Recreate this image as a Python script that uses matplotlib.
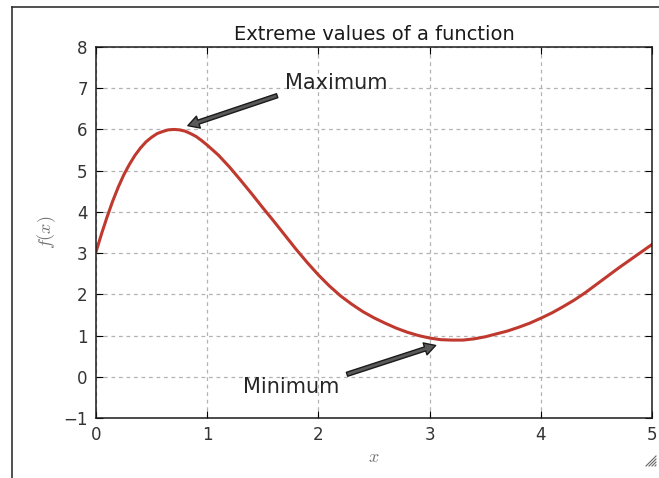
import matplotlib
matplotlib.use("Agg")
import matplotlib.pyplot as plt
from matplotlib.lines import Line2D

# values
x_vals = [0.0, 0.05, 0.1, 0.15, 0.2, 0.25, 0.3, 0.35, 0.4, 0.45, 0.5, 0.55, 0.6, 0.65,
          0.7, 0.75, 0.8, 0.85, 0.9, 0.95, 1.0, 1.1, 1.2, 1.3, 1.4, 1.5, 1.6, 1.7,
          1.8, 1.9, 2.0, 2.1, 2.2, 2.3, 2.4, 2.5, 2.6, 2.7, 2.8, 2.9, 3.0, 3.1,
          3.2, 3.3, 3.4, 3.5, 3.6, 3.7, 3.8, 3.9, 4.0, 4.1, 4.2, 4.3, 4.4, 4.5,
          4.6, 4.7, 4.8, 4.9, 5.0]
f_vals = [3.03, 3.47, 3.88, 4.26, 4.6, 4.9, 5.15, 5.37, 5.55, 5.7, 5.81, 5.9, 5.95, 5.99,
          6.0, 5.99, 5.96, 5.9, 5.83, 5.73, 5.62, 5.38, 5.09, 4.77, 4.44, 4.1, 3.77, 3.43,
          3.09, 2.77, 2.47, 2.2, 1.96, 1.76, 1.58, 1.43, 1.3, 1.18, 1.08, 1.0, 0.94, 0.9,
          0.89, 0.89, 0.92, 0.97, 1.04, 1.11, 1.2, 1.3, 1.42, 1.55, 1.7, 1.86, 2.04, 2.24,
          2.44, 2.64, 2.83, 3.02, 3.21]

max_xy = (0.78, 6.05)
max_text = (1.70, 6.98)
min_xy = (3.10, 0.80)
min_text = (1.32, -0.39)

x_ticks = [0, 1, 2, 3, 4, 5]
y_ticks = [-1, 0, 1, 2, 3, 4, 5, 6, 7, 8]

plt.rcParams["mathtext.fontset"] = "cm"
plt.rcParams["font.family"] = ["DejaVu Sans"]

fig = plt.figure(figsize=(6.59, 4.78), dpi=100)
ax = fig.add_axes([96 / 659, 1 - 418 / 478, 556 / 659, 371 / 478])

ax.plot(x_vals, f_vals, color="#c0392f", lw=2.2)

ax.set_xlim(0, 5)
ax.set_ylim(-1, 8)
ax.set_xticks(x_ticks)
ax.set_yticks(y_ticks)
ax.grid(True, color="0.7", linestyle=(0, (3, 3)), lw=0.9)
ax.tick_params(direction="in", top=True, right=True, length=5, width=0.8,
               labelsize=12, labelcolor="0.2", pad=6)
for s in ax.spines.values():
    s.set_linewidth(1.1)
    s.set_color("0.1")

ax.set_title("Extreme values of a function", fontsize=14, color="0.1", pad=5)
ax.set_xlabel("$x$", fontsize=13, color="0.45", labelpad=3)
ax.set_ylabel("$f(x)$", fontsize=13, color="0.45", labelpad=4)

arrow = dict(facecolor="0.35", edgecolor="0.1", shrink=0.05, width=3, headwidth=9, headlength=8)
ax.annotate("Maximum", xy=max_xy, xytext=max_text, fontsize=15, color="0.15", arrowprops=arrow)
ax.annotate("Minimum", xy=min_xy, xytext=min_text, fontsize=15, color="0.15", arrowprops=arrow)

# notebook output frame
fig.add_artist(Line2D([12 / 659, 12 / 659], [0, 1 - 7 / 478], color="0.2", lw=1.2,
                      transform=fig.transFigure))
fig.add_artist(Line2D([12 / 659, 1], [1 - 7 / 478, 1 - 7 / 478], color="0.2", lw=1.2,
                      transform=fig.transFigure))
# resize handle
for k in range(4):
    off = 3 * k
    fig.add_artist(Line2D([(646 + off) / 659, 656 / 659], [(478 - 466) / 478, (478 - 456 - off) / 478],
                          color="0.4", lw=0.8, transform=fig.transFigure))

fig.savefig("out.png", dpi=100)
